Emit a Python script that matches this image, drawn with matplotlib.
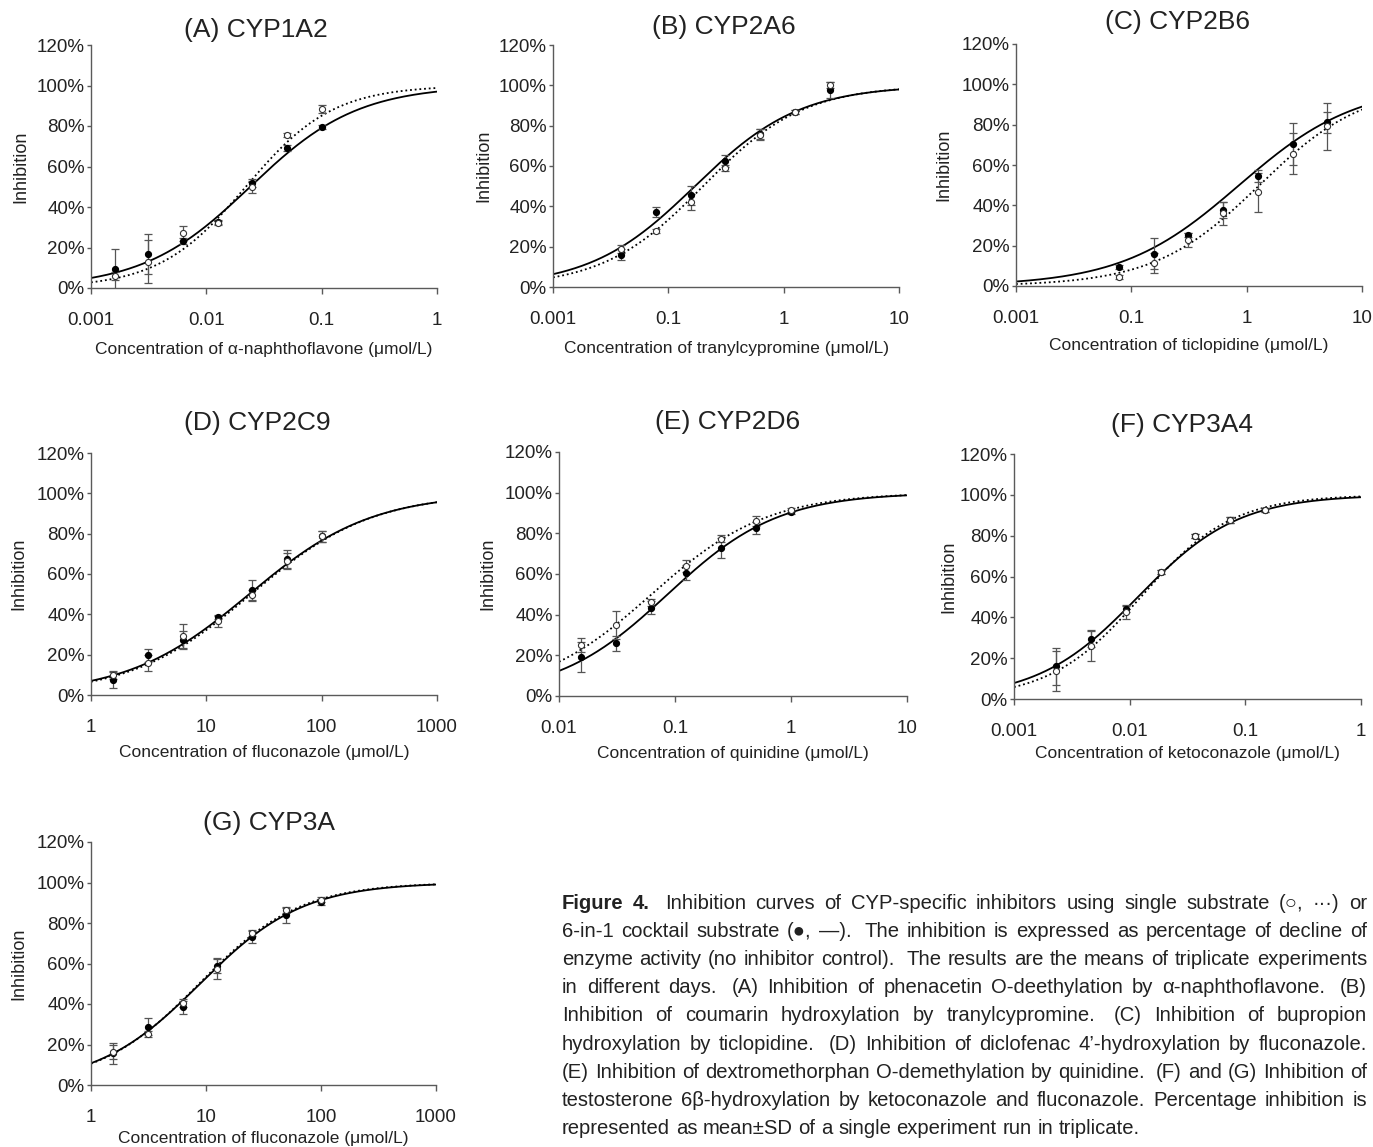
import numpy as np
import matplotlib
matplotlib.use("Agg")
import matplotlib.pyplot as plt
from matplotlib.ticker import FixedLocator, FixedFormatter, NullLocator, FuncFormatter

plt.rcParams['font.family'] = ['Liberation Sans', 'DejaVu Sans']

# concentrations (umol/L)
conc_a = [0.0016, 0.003125, 0.00625, 0.0125, 0.025, 0.05, 0.1]
conc_b = [0.039, 0.078, 0.156, 0.3125, 0.625, 1.25, 2.5]
conc_c = [0.078, 0.156, 0.3125, 0.625, 1.25, 2.5, 5]
conc_d = [1.5625, 3.125, 6.25, 12.5, 25, 50, 100]
conc_e = [0.015625, 0.03125, 0.0625, 0.125, 0.25, 0.5, 1]
conc_f = [0.0023, 0.0046, 0.00925, 0.0185, 0.037, 0.074, 0.148]
conc_g = [1.5625, 3.125, 6.25, 12.5, 25, 50, 100]

# % inhibition, 6-in-1 cocktail (filled) and single substrate (open)
cock_a = [9.2, 16.8, 23.1, 32.5, 52, 69.3, 79.4]
cock_a_sd = [10, 10, 1.5, 1, 2, 1.5, 1]
single_a = [5.9, 13, 27, 32, 50, 75.4, 88.5]
single_a_sd = [2, 10.6, 3.7, 1, 3, 1, 2]

cock_b = [16, 37.1, 45.4, 62.4, 76, 86.8, 97.7]
cock_b_sd = [2.8, 2.5, 4.5, 3, 2.5, 1, 3.8]
single_b = [18.8, 27.9, 42.3, 58.9, 75.4, 86.8, 100.2]
single_b_sd = [2, 1, 4, 1.5, 2.7, 1, 1.5]

cock_c = [9.6, 15.9, 25.5, 37.7, 54.6, 70.5, 81.1]
cock_c_sd = [1, 7.7, 1, 4, 3, 10.3, 5]
single_c = [4.6, 11.6, 22.8, 36.1, 46.5, 65.6, 79.1]
single_c_sd = [1, 5, 3.3, 5.8, 9.6, 10.3, 11.5]

cock_d = [7.3, 19.7, 27.2, 38.8, 52, 67.5, 78.6]
cock_d_sd = [4, 3.3, 4.5, 1, 5, 4.5, 2.5]
single_d = [9.8, 15.9, 29.2, 36.6, 49.4, 66.5, 78.6]
single_d_sd = [2, 4, 6, 2.8, 2.7, 4, 2.5]

cock_e = [19.3, 25.9, 43.5, 60.7, 72.9, 82.8, 90.4]
cock_e_sd = [7.3, 3.6, 3, 3.7, 4.8, 3, 1]
single_e = [25, 34.9, 46, 63.9, 77.4, 86.1, 91.4]
single_e_sd = [3.3, 7, 1.5, 3, 1.7, 2.5, 1]

cock_f = [16, 29.4, 44.2, 62.2, 80, 87.5, 92.7]
cock_f_sd = [9, 4, 1.5, 1, 1, 1.5, 1]
single_f = [13.6, 26.1, 42.6, 62, 79.8, 87.8, 92.5]
single_f_sd = [9.8, 7.7, 3.4, 1, 1, 1.5, 1]

cock_g = [15.6, 28.8, 38.3, 58.7, 73.2, 83.8, 90.4]
cock_g_sd = [5, 4.1, 3.4, 3.3, 3, 3.6, 1.5]
single_g = [16.4, 25.2, 40.5, 57.5, 75.1, 86.3, 91.6]
single_g_sd = [3.6, 1.5, 2, 5.2, 1.5, 1.5, 1]

# fitted curves (IC50, Hill slope)
fit_cock = [(0.024, 0.93), (0.17, 0.95), (0.86, 0.85), (23.5, 0.82),
            (0.0863, 0.91), (0.0118, 1.0), (8.87, 0.97)]
fit_single = [(0.022, 1.15), (0.2, 1.0), (1.29, 0.95), (24.5, 0.83),
              (0.0628, 0.87), (0.0125, 1.1), (8.7, 0.99)]

titles = ["(A) CYP1A2", "(B) CYP2A6", "(C) CYP2B6", "(D) CYP2C9",
          "(E) CYP2D6", "(F) CYP3A4", "(G) CYP3A"]
xlabels = ["Concentration of α-naphthoflavone (μmol/L)",
           "Concentration of tranylcypromine (μmol/L)",
           "Concentration of ticlopidine (μmol/L)",
           "Concentration of fluconazole (μmol/L)",
           "Concentration of quinidine (μmol/L)",
           "Concentration of ketoconazole (μmol/L)",
           "Concentration of fluconazole (μmol/L)"]
xticks = [[0.001, 0.01, 0.1, 1], [0.01, 0.1, 1, 10], [0.01, 0.1, 1, 10],
          [1, 10, 100, 1000], [0.01, 0.1, 1, 10], [0.001, 0.01, 0.1, 1],
          [1, 10, 100, 1000]]
xticklabels = [["0.001", "0.01", "0.1", "1"], ["0.001", "0.1", "1", "10"],
               ["0.001", "0.1", "1", "10"], ["1", "10", "100", "1000"],
               ["0.01", "0.1", "1", "10"], ["0.001", "0.01", "0.1", "1"],
               ["1", "10", "100", "1000"]]

W, H = 1373, 1147
# axes boxes in pixels: left, right, top, bottom
boxes = [(91, 437, 45, 288), (553, 899, 45, 287), (1016, 1362, 44, 286),
         (91, 437, 453, 695), (559, 907, 452, 696), (1014, 1361, 454, 699),
         (91, 436, 842, 1085)]
title_pos = [(0.477, 1.062), (0.494, 1.074), (0.468, 1.091), (0.48, 1.124),
             (0.484, 1.123), (0.484, 1.118), (0.516, 1.078)]
ylab_x = [-0.179, -0.174, -0.184, -0.184, -0.181, -0.164, -0.184]
xlab_y = [-0.222, -0.223, -0.215, -0.207, -0.205, -0.191, -0.189]

concs = [conc_a, conc_b, conc_c, conc_d, conc_e, conc_f, conc_g]
cocks = [cock_a, cock_b, cock_c, cock_d, cock_e, cock_f, cock_g]
cock_sds = [cock_a_sd, cock_b_sd, cock_c_sd, cock_d_sd, cock_e_sd, cock_f_sd, cock_g_sd]
singles = [single_a, single_b, single_c, single_d, single_e, single_f, single_g]
single_sds = [single_a_sd, single_b_sd, single_c_sd, single_d_sd, single_e_sd, single_f_sd, single_g_sd]

fig = plt.figure(figsize=(W / 100, H / 100), dpi=100)
txt = '#222222'
spine = '#5a5a5a'
ebc = '#555555'

for i in range(7):
    l, r, t, b = boxes[i]
    ax = fig.add_axes([l / W, (H - b) / H, (r - l) / W, (b - t) / H])
    ax.set_xscale('log')
    x0, x1 = xticks[i][0], xticks[i][-1]
    ax.set_xlim(x0, x1)
    ax.set_ylim(0, 120)

    xs = np.logspace(np.log10(x0), np.log10(x1), 300)
    ic, h = fit_cock[i]
    ax.plot(xs, 100 / (1 + (ic / xs) ** h), color='black', lw=1.3, zorder=2)
    ic, h = fit_single[i]
    ax.plot(xs, 100 / (1 + (ic / xs) ** h), color='black', lw=1.3,
            linestyle=(0, (1, 1.6)), zorder=2)

    ax.errorbar(concs[i], cocks[i], yerr=cock_sds[i], fmt='none', ecolor=ebc,
                elinewidth=0.9, capsize=2.6, capthick=0.9, zorder=3)
    ax.errorbar(concs[i], singles[i], yerr=single_sds[i], fmt='none', ecolor=ebc,
                elinewidth=0.9, capsize=2.6, capthick=0.9, zorder=3)
    ax.plot(concs[i], cocks[i], 'o', color='black', ms=4.2, zorder=4)
    ax.plot(concs[i], singles[i], 'o', mfc='white', mec='#333333', mew=0.8,
            ms=4.4, zorder=5)

    ax.xaxis.set_major_locator(FixedLocator(xticks[i]))
    ax.xaxis.set_major_formatter(FixedFormatter(xticklabels[i]))
    ax.xaxis.set_minor_locator(NullLocator())
    ax.set_yticks(range(0, 121, 20))
    ax.yaxis.set_major_formatter(FuncFormatter(lambda v, p: '%d%%' % v))

    for s in ['top', 'right']:
        ax.spines[s].set_visible(False)
    for s in ['left', 'bottom']:
        ax.spines[s].set_color(spine)
        ax.spines[s].set_linewidth(1.0)
    ax.tick_params(axis='x', direction='out', length=4, width=1, color=spine,
                   labelsize=13.5, labelcolor=txt, pad=13)
    ax.tick_params(axis='y', direction='out', length=3, width=1, color=spine,
                   labelsize=13.5, labelcolor=txt, pad=1.5)

    ax.set_ylabel('Inhibition', fontsize=13, color=txt)
    ax.yaxis.set_label_coords(ylab_x[i], 0.5)
    ax.set_xlabel(xlabels[i], fontsize=12.5, color=txt)
    ax.xaxis.set_label_coords(0.5, xlab_y[i])
    ax.text(title_pos[i][0], title_pos[i][1], titles[i], transform=ax.transAxes,
            ha='center', va='center', fontsize=19, color=txt)

# caption, justified line by line
caption = [
    "Figure 4.  Inhibition curves of CYP-specific inhibitors using single substrate (○, ···) or",
    "6-in-1 cocktail substrate (●, —).  The inhibition is expressed as percentage of decline of",
    "enzyme activity (no inhibitor control).  The results are the means of triplicate experiments",
    "in different days.  (A) Inhibition of phenacetin O-deethylation by α-naphthoflavone.  (B)",
    "Inhibition of coumarin hydroxylation by tranylcypromine.  (C) Inhibition of bupropion",
    "hydroxylation by ticlopidine.  (D) Inhibition of diclofenac 4’-hydroxylation by fluconazole.",
    "(E) Inhibition of dextromethorphan O-demethylation by quinidine.  (F) and (G) Inhibition of",
    "testosterone 6β-hydroxylation by ketoconazole and fluconazole. Percentage inhibition is",
    "represented as mean±SD of a single experiment run in triplicate.",
]
cap_left, cap_right = 562, 1367
base0, lead = 909, 28.1
fs = 14.6
space = 0.278 * fs * 100 / 72

fig.canvas.draw()
rend = fig.canvas.get_renderer()
for k, line in enumerate(caption):
    toks = []
    gap = 0
    for part in line.split(' '):
        if part == '':
            gap += 1
        else:
            toks.append((part, gap + 1 if toks else 0))
            gap = 0
    y = 1 - (base0 + lead * k) / H
    objs = []
    for j, (word, g) in enumerate(toks):
        bold = (k == 0 and j < 2)
        t = fig.text(0, y, word, fontsize=fs, color=txt, va='baseline',
                     fontweight='bold' if bold else 'normal')
        objs.append(t)
    widths = [o.get_window_extent(renderer=rend).width for o in objs]
    natural = sum(widths) + sum(g for _, g in toks) * space
    ngaps = len(toks) - 1
    extra = 0 if k == len(caption) - 1 else (cap_right - cap_left - natural) / ngaps
    x = cap_left
    for j, o in enumerate(objs):
        if j > 0:
            x += toks[j][1] * space + extra
        o.set_x(x / W)
        x += widths[j]

fig.savefig('out.png', dpi=100)
